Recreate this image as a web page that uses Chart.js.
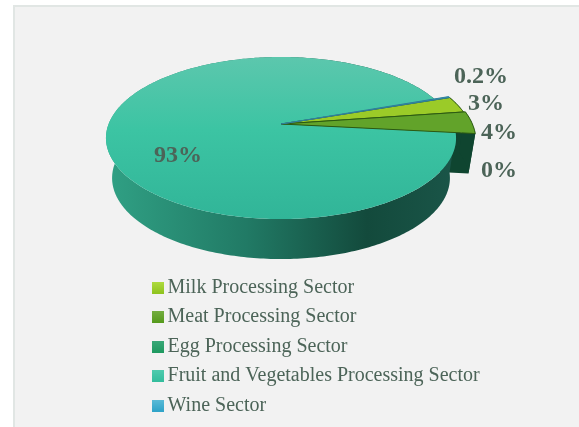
<!DOCTYPE html>
<html>
<head>
<meta charset="utf-8">
<script src="https://cdn.jsdelivr.net/npm/chart.js"></script>
<style>
    html, body { margin: 0; background: #fff; overflow: hidden; }
    #panel { position: absolute; left: 13px; top: 5px; width: 566px; height: 422px; background: #f2f2f2; border-left: 2px solid #e1e6e4; border-top: 2px solid #e1e6e4; box-sizing: border-box; }
    #wrap { position: absolute; left: 0; top: 0; width: 579px; height: 427px; }
</style>
</head>
<body>
<div id="panel"></div>
<div id="wrap"><canvas id="myChart"></canvas></div>
<script>
    const sectors = ['Milk Processing Sector', 'Meat Processing Sector', 'Egg Processing Sector', 'Fruit and Vegetables Processing Sector', 'Wine Sector'];
    const shares = [3, 4, 0, 93, 0.2];
    const shareLabels = ['3%', '4%', '0%', '93%', '0.2%'];
    const sliceColors = ['#9bcb28', '#62a32a', '#27a06c', '#3cc3a3', '#3ba9cf'];
    const swatchTops = ['#b0dc40', '#74ad40', '#3aa878', '#4fcbae', '#5cbbd8'];
    const swatchBottoms = ['#8fc31f', '#559a1c', '#1f9a60', '#33bd9c', '#2fa3c8'];

    // centre of each percent label
    const labelSpots = [[486, 104], [499, 133], [499, 171], [178, 156], [481, 77]];
    // how far the small slices stick out past the rim
    const pullOut = [17, 19, 19, 0, 17];

    // tilted view of the pie
    const view = { cx: 281, cy: 124, rx: 172.4, a: 78.6, b: 0.173, depth: 40, shrink: 0.965 };

    function project(angle, r) {
        const u = Math.cos(angle) * r, v = Math.sin(angle) * r;
        const k = 1 / (1 - view.b * v);
        return [view.cx + view.rx * u * k, view.cy + view.a * v * k];
    }
    function lower(p) {
        return [view.cx + (p[0] - view.cx) * view.shrink, p[1] + view.depth];
    }
    function rimPoints(start, end, r) {
        const pts = [];
        const n = Math.max(2, Math.ceil((end - start) * 60));
        for (let i = 0; i <= n; i++) pts.push(project(start + (end - start) * i / n, r));
        return pts;
    }
    function fillPath(ctx, pts, fill, stroke) {
        ctx.beginPath();
        pts.forEach((p, i) => i ? ctx.lineTo(p[0], p[1]) : ctx.moveTo(p[0], p[1]));
        ctx.closePath();
        ctx.fillStyle = fill;
        ctx.fill();
        if (stroke) {
            ctx.strokeStyle = stroke;
            ctx.lineWidth = 1;
            ctx.stroke();
        }
    }

    const tiltedPie = {
        id: 'tiltedPie',
        beforeDatasetDraw(chart, args) {
            const ctx = chart.ctx;
            const arcs = args.meta.data;
            const apex = [view.cx, view.cy];
            const big = shares.indexOf(Math.max(...shares));
            const radius = i => 1 + pullOut[i] / view.rx;

            ctx.save();
            // sides of the small slices first, the big one covers them
            arcs.forEach((arc, i) => {
                if (i === big || shares[i] === 0) return;
                const rim = rimPoints(arc.startAngle, arc.endAngle, radius(i));
                fillPath(ctx, [apex, rim[rim.length - 1], lower(rim[rim.length - 1]), lower(apex)], '#0f4530');
                fillPath(ctx, rim.concat(rim.map(lower).reverse()), '#0f4530');
            });

            // big slice wall
            const bigArc = arcs[big];
            const wall = rimPoints(bigArc.startAngle, bigArc.endAngle, 1);
            const sideFill = ctx.createLinearGradient(view.cx - view.rx, 0, view.cx + view.rx, 0);
            sideFill.addColorStop(0, '#30a084');
            sideFill.addColorStop(0.4, '#217a65');
            sideFill.addColorStop(0.75, '#134a3c');
            sideFill.addColorStop(1, '#1a5548');
            fillPath(ctx, wall.concat(wall.map(lower).reverse()), sideFill);

            // big slice top
            const topFill = ctx.createLinearGradient(0, 57, 0, 219);
            topFill.addColorStop(0, '#5cc7ad');
            topFill.addColorStop(0.45, '#3cc4a3');
            topFill.addColorStop(1, '#31b598');
            fillPath(ctx, [apex].concat(wall), topFill);

            // small slice tops
            arcs.forEach((arc, i) => {
                if (i === big || shares[i] === 0) return;
                const rim = rimPoints(arc.startAngle, arc.endAngle, radius(i));
                fillPath(ctx, [apex].concat(rim), sliceColors[i], i === 4 ? '#2f7f9a' : '#2c5a12');
            });
            ctx.restore();
            return false;
        },
        afterDatasetsDraw(chart) {
            const ctx = chart.ctx;
            ctx.save();
            ctx.font = 'bold 24px "Liberation Serif"';
            ctx.fillStyle = '#4c6458';
            ctx.textAlign = 'center';
            ctx.textBaseline = 'middle';
            shareLabels.forEach((t, i) => ctx.fillText(t, labelSpots[i][0], labelSpots[i][1]));
            ctx.restore();
        }
    };

    function swatch(i) {
        const c = document.createElement('canvas');
        c.width = 12; c.height = 12;
        const g = c.getContext('2d');
        const fill = g.createLinearGradient(0, 0, 0, 12);
        fill.addColorStop(0, swatchTops[i]);
        fill.addColorStop(1, swatchBottoms[i]);
        g.fillStyle = fill;
        g.fillRect(0, 0, 12, 12);
        return c;
    }

    new Chart(document.getElementById('myChart'), {
        type: 'pie',
        data: {
            labels: sectors,
            datasets: [{ data: shares, backgroundColor: sliceColors, borderWidth: 0 }]
        },
        options: {
            responsive: true,
            maintainAspectRatio: false,
            animation: false,
            rotation: 71,
            layout: { padding: { left: 148, bottom: 2 } },
            plugins: {
                tooltip: { enabled: false },
                legend: {
                    position: 'left',
                    align: 'end',
                    maxWidth: 425,
                    labels: {
                        color: '#4c6458',
                        font: { family: '"Liberation Serif"', size: 20 },
                        padding: 9.5,
                        usePointStyle: true,
                        pointStyleWidth: 0.01,
                        generateLabels: chart => sectors.map((s, i) => ({
                            text: s, index: i, pointStyle: swatch(i), fontColor: '#4c6458', lineWidth: 0, hidden: false
                        }))
                    }
                }
            }
        },
        plugins: [tiltedPie]
    });
</script>
</body>
</html>
